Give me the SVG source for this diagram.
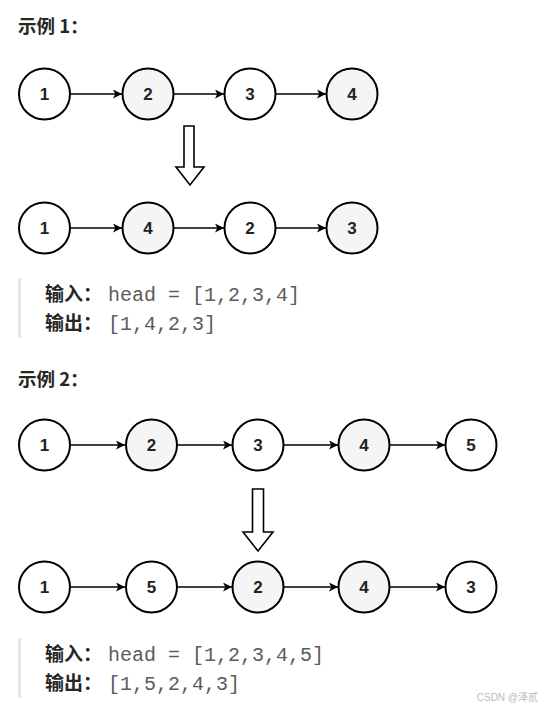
<svg xmlns="http://www.w3.org/2000/svg" width="543" height="708" viewBox="0 0 543 708">
<style>
.n circle{stroke:#000;stroke-width:2}
.w{fill:#fff}
.g{fill:#f5f5f5}
.n text{font-family:"Liberation Sans",Arial,sans-serif;font-weight:bold;font-size:17px;fill:#222;text-anchor:middle}
.e{stroke:#000;stroke-width:1.6;fill:none;marker-end:url(#ah)}
.big{fill:#fff;stroke:#000;stroke-width:1.6;stroke-linejoin:miter}
.title{font-family:"Noto Sans CJK SC","Liberation Sans",sans-serif;font-weight:bold;font-size:18.5px;fill:#262626}
.lbl{font-family:"Noto Sans CJK SC","Liberation Sans",sans-serif;font-weight:bold;font-size:19px;fill:#262626}
.code{font-family:"Liberation Mono","DejaVu Sans Mono",monospace;font-size:20px;fill:#5c5c5c}
.bar{fill:#e6e6e6}
</style>
<defs>
<marker id="ah" viewBox="0 0 10 10" refX="10" refY="5" markerWidth="10" markerHeight="9" markerUnits="userSpaceOnUse" orient="auto">
<path d="M0,0 L10,5 L0,10 L2.5,5 Z" fill="#000"/>
</marker>
</defs>

<text class="title" x="18" y="33">示例 1：</text>

<g id="connectors">
<line class="e" x1="70" y1="94" x2="122" y2="94"/>
<line class="e" x1="174" y1="94" x2="224" y2="94"/>
<line class="e" x1="276" y1="94" x2="326" y2="94"/>
<line class="e" x1="70" y1="228" x2="122" y2="228"/>
<line class="e" x1="174" y1="228" x2="224" y2="228"/>
<line class="e" x1="276" y1="228" x2="326" y2="228"/>
<line class="e" x1="70" y1="445" x2="125" y2="445"/>
<line class="e" x1="177" y1="445" x2="232" y2="445"/>
<line class="e" x1="284" y1="445" x2="338" y2="445"/>
<line class="e" x1="390" y1="445" x2="445" y2="445"/>
<line class="e" x1="70" y1="587" x2="125" y2="587"/>
<line class="e" x1="177" y1="587" x2="232" y2="587"/>
<line class="e" x1="284" y1="587" x2="338" y2="587"/>
<line class="e" x1="390" y1="587" x2="445" y2="587"/>
</g>

<g id="e1r1n1" class="n"><circle class="w" cx="44.5" cy="94" r="25.5"/><text x="44.5" y="100">1</text></g>
<g id="e1r1n2" class="n"><circle class="g" cx="148" cy="94" r="25.5"/><text x="148" y="100">2</text></g>
<g id="e1r1n3" class="n"><circle class="w" cx="250" cy="94" r="25.5"/><text x="250" y="100">3</text></g>
<g id="e1r1n4" class="n"><circle class="g" cx="352" cy="94" r="25.5"/><text x="352" y="100">4</text></g>

<g id="e1arrow"><path class="big" d="M184,126 H194 V167 H204 L190,185 L176,167 H184 Z"/></g>

<g id="e1r2n1" class="n"><circle class="w" cx="44.5" cy="228" r="25.5"/><text x="44.5" y="234">1</text></g>
<g id="e1r2n2" class="n"><circle class="g" cx="148" cy="228" r="25.5"/><text x="148" y="234">4</text></g>
<g id="e1r2n3" class="n"><circle class="w" cx="250" cy="228" r="25.5"/><text x="250" y="234">2</text></g>
<g id="e1r2n4" class="n"><circle class="g" cx="352" cy="228" r="25.5"/><text x="352" y="234">3</text></g>

<rect class="bar" x="18" y="278" width="3" height="60"/>
<text class="lbl" x="45" y="301">输入：</text>
<text class="code" x="108" y="301">head = [1,2,3,4]</text>
<text class="lbl" x="45" y="330">输出：</text>
<text class="code" x="108" y="330">[1,4,2,3]</text>

<text class="title" x="18" y="386">示例 2：</text>

<g id="e2r1n1" class="n"><circle class="w" cx="44.5" cy="445" r="25.5"/><text x="44.5" y="451">1</text></g>
<g id="e2r1n2" class="n"><circle class="g" cx="151.5" cy="445" r="25.5"/><text x="151.5" y="451">2</text></g>
<g id="e2r1n3" class="n"><circle class="w" cx="258" cy="445" r="25.5"/><text x="258" y="451">3</text></g>
<g id="e2r1n4" class="n"><circle class="g" cx="364" cy="445" r="25.5"/><text x="364" y="451">4</text></g>
<g id="e2r1n5" class="n"><circle class="w" cx="471" cy="445" r="25.5"/><text x="471" y="451">5</text></g>

<g id="e2arrow"><path class="big" d="M252.5,489 H263.5 V532 H273 L258,551 L243,532 H252.5 Z"/></g>

<g id="e2r2n1" class="n"><circle class="w" cx="44.5" cy="587" r="25.5"/><text x="44.5" y="593">1</text></g>
<g id="e2r2n2" class="n"><circle class="w" cx="151.5" cy="587" r="25.5"/><text x="151.5" y="593">5</text></g>
<g id="e2r2n3" class="n"><circle class="g" cx="258" cy="587" r="25.5"/><text x="258" y="593">2</text></g>
<g id="e2r2n4" class="n"><circle class="g" cx="364" cy="587" r="25.5"/><text x="364" y="593">4</text></g>
<g id="e2r2n5" class="n"><circle class="w" cx="471" cy="587" r="25.5"/><text x="471" y="593">3</text></g>

<rect class="bar" x="18" y="638" width="3" height="60"/>
<text class="lbl" x="45" y="661">输入：</text>
<text class="code" x="108" y="661">head = [1,2,3,4,5]</text>
<text class="lbl" x="45" y="690">输出：</text>
<text class="code" x="108" y="690">[1,5,2,4,3]</text>

<text x="538" y="701" font-family="'Liberation Sans','Noto Sans CJK SC',sans-serif" font-size="10" fill="#bbbbbb" text-anchor="end">CSDN @泽贰</text>
</svg>
